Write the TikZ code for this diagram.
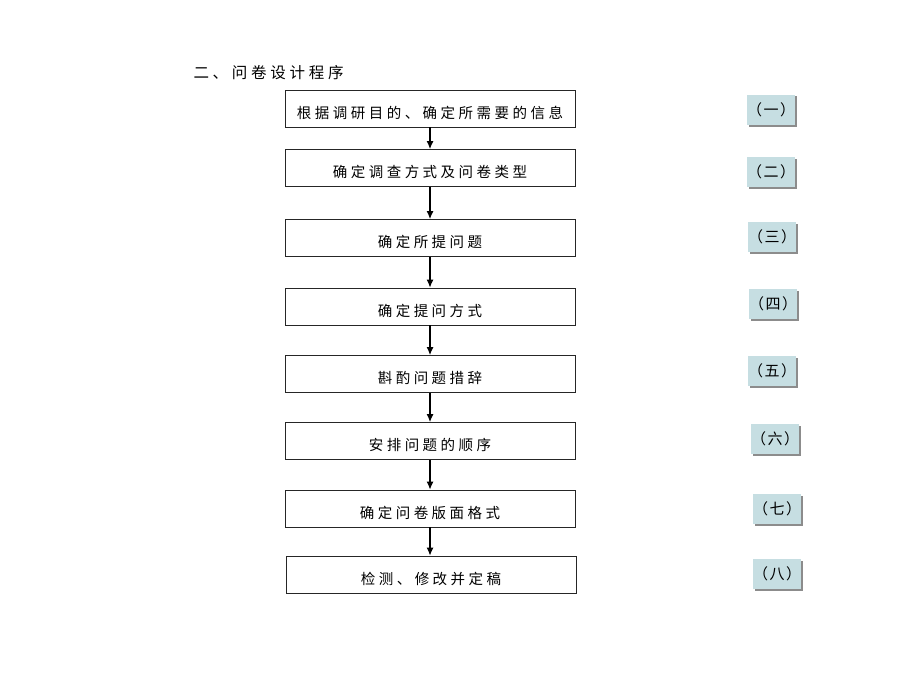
\documentclass[tikz,border=0pt]{standalone}
\usepackage{fontspec}
\setmainfont{Noto Sans CJK SC}
\newfontfamily\cjk[LetterSpace=24]{Noto Sans CJK SC}
\newfontfamily\tagfont[LetterSpace=10]{Noto Sans CJK SC}
\usetikzlibrary{arrows,arrows.meta,positioning,shadows}

\definecolor{tagfill}{RGB}{198,222,226}

\tikzset{
    stepbox/.style={draw=black!85, line width=0.9pt, minimum width=290pt, minimum height=37pt,
        inner sep=0pt, text height=28pt, text depth=9pt, font=\cjk\fontsize{14.5pt}{16pt}\selectfont},
    tagbox/.style={fill=tagfill, minimum width=48pt, minimum height=30pt, inner sep=0pt,
        drop shadow={shadow xshift=1.5pt, shadow yshift=-1.5pt, fill=black!45, opacity=1},
        font=\tagfont\fontsize{15pt}{17pt}\selectfont},
    flow/.style={-{Latex[length=8pt,width=7pt]}, line width=1.1pt}
}

\begin{document}
\begin{tikzpicture}[x=1pt, y=-1pt]
    \useasboundingbox (0,0) rectangle (920,690);

    \node[anchor=west, font=\cjk\fontsize{15.5pt}{17pt}\selectfont] (title) at (190, 73) {二、问卷设计程序};

    \node[stepbox] (purpose) at (430, 108.5) {根据调研目的、确定所需要的信息};

    \node[stepbox] (method) at (430, 168) {确定调查方式及问卷类型};

    \node[stepbox] (questions) at (430, 238) {确定所提问题};

    \node[stepbox] (askway) at (430, 306.5) {确定提问方式};

    \node[stepbox] (wording) at (430, 374) {斟酌问题措辞};

    \node[stepbox] (order) at (430, 441) {安排问题的顺序};

    \node[stepbox] (layout) at (430, 508.5) {确定问卷版面格式};

    \node[stepbox] (finalize) at (431, 574.5) {检测、修改并定稿};

    \node[tagbox] (tag1) at (771, 110) {（一）};
    \node[tagbox] (tag2) at (771, 172) {（二）};
    \node[tagbox] (tag3) at (772, 237) {（三）};
    \node[tagbox] (tag4) at (773, 304) {（四）};
    \node[tagbox] (tag5) at (772, 371) {（五）};
    \node[tagbox] (tag6) at (775, 439) {（六）};
    \node[tagbox] (tag7) at (777, 509) {（七）};
    \node[tagbox] (tag8) at (777, 574) {（八）};

    \draw[flow] (purpose) to (method);

    \draw[flow] (method) to (questions);

    \draw[flow] (questions) to (askway);

    \draw[flow] (askway) to (wording);

    \draw[flow] (wording) to (order);

    \draw[flow] (order) to (layout);

    \draw[flow] (layout) to (finalize.north -| layout.south);
\end{tikzpicture}
\end{document}
